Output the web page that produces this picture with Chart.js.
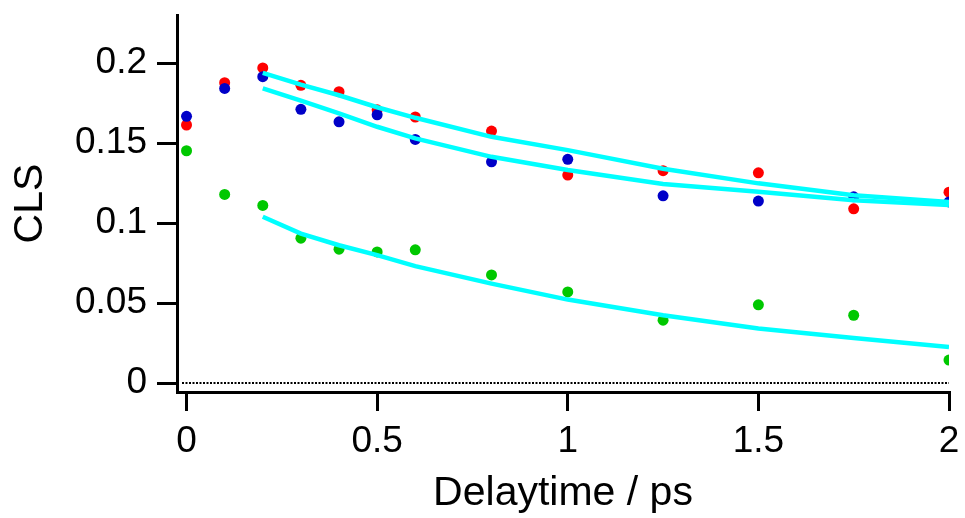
<!DOCTYPE html>
<html>
<head>
<meta charset="utf-8">
<script src="https://cdn.jsdelivr.net/npm/chart.js@4.4.1/dist/chart.umd.min.js"></script>
<style>
  html, body { margin: 0; padding: 0; background: #fff; }
  #wrap { width: 965px; height: 518px; position: relative; }
</style>
</head>
<body>
<div id="wrap"><canvas id="grafico"></canvas></div>
<script>
// delay times (ps)
const tiempos = [0, 0.1, 0.2, 0.3, 0.4, 0.5, 0.6, 0.8, 1, 1.25, 1.5, 1.75, 2];
const clsRojo = [0.1614, 0.1879, 0.1971, 0.1862, 0.1822, 0.1709, 0.1664, 0.1576, 0.1301, 0.1328, 0.1315, 0.1090, 0.1194];
const clsAzul = [0.1668, 0.1843, 0.1916, 0.1712, 0.1634, 0.1678, 0.1524, 0.1384, 0.1399, 0.1171, 0.1138, 0.1165, 0.1133];
const clsVerde = [0.1453, 0.1180, 0.1111, 0.0906, 0.0837, 0.0820, 0.0833, 0.0676, 0.0570, 0.0393, 0.0489, 0.0424, 0.0144];

// fitted curves
const tiemposAjuste = [0.2, 0.3, 0.4, 0.5, 0.6, 0.8, 1, 1.25, 1.5, 1.75, 2];
const ajusteRojo = [0.1940, 0.1866, 0.1800, 0.1725, 0.1659, 0.1540, 0.1457, 0.1340, 0.1249, 0.1175, 0.1133];
const ajusteAzul = [0.1843, 0.1766, 0.1687, 0.1603, 0.1530, 0.1415, 0.1332, 0.1245, 0.1196, 0.1144, 0.1113];
const ajusteVerde = [0.1040, 0.0935, 0.0862, 0.0800, 0.0731, 0.0622, 0.0522, 0.0424, 0.0341, 0.0282, 0.0225];

const ticksX = [0, 0.5, 1, 1.5, 2];
const etiquetasX = ['0', '0.5', '1', '1.5', '2'];
const ticksY = [0, 0.05, 0.1, 0.15, 0.2];
const etiquetasY = ['0', '0.05', '0.1', '0.15', '0.2'];

const puntos = (xs, ys) => xs.map((x, i) => ({ x: x, y: ys[i] }));
const fuente = 'Liberation Sans, Arial, sans-serif';

const lineaCero = {
    id: 'lineaCero',
    beforeDatasetsDraw(chart) {
        const { ctx, chartArea, scales } = chart;
        const y = scales.y.getPixelForValue(0);
        ctx.save();
        ctx.strokeStyle = '#000';
        ctx.lineWidth = 2;
        ctx.setLineDash([2, 1.5]);
        ctx.beginPath();
        ctx.moveTo(chartArea.left + 5, y);
        ctx.lineTo(chartArea.right, y);
        ctx.stroke();
        ctx.restore();
    }
};

function serieAjuste(ys) {
    return {
        data: puntos(tiemposAjuste, ys),
        showLine: true,
        borderColor: '#00ffff',
        borderWidth: 4.5,
        pointRadius: 0,
        tension: 0,
        order: 0
    };
}

function seriePuntos(ys, color, orden) {
    return {
        data: puntos(tiempos, ys),
        showLine: false,
        backgroundColor: color,
        borderWidth: 0,
        pointRadius: 5.5,
        order: orden
    };
}

const contexto = document.getElementById('grafico').getContext('2d');

new Chart(contexto, {
    type: 'scatter',
    data: {
        datasets: [
            serieAjuste(ajusteRojo),
            serieAjuste(ajusteAzul),
            serieAjuste(ajusteVerde),
            seriePuntos(clsAzul, '#0000c8', 1),
            seriePuntos(clsRojo, '#ff0000', 2),
            seriePuntos(clsVerde, '#00c800', 3)
        ]
    },
    options: {
        responsive: true,
        maintainAspectRatio: false,
        animation: false,
        layout: { padding: { top: 15, right: 16, left: 0, bottom: 0 } },
        plugins: { legend: { display: false }, tooltip: { enabled: false } },
        scales: {
            x: {
                type: 'linear',
                min: -0.025,
                max: 2,
                afterBuildTicks(s) { s.ticks = ticksX.map(v => ({ value: v })); },
                afterFit(s) {
                    s.height = 126;
                    s.paddingLeft = 0;
                    s.paddingRight = 0;
                },
                ticks: {
                    color: '#000',
                    font: { family: fuente, size: 37 },
                    padding: 9,
                    maxRotation: 0,
                    callback: (v, i) => etiquetasX[i]
                },
                grid: { drawOnChartArea: false, drawTicks: true, tickLength: 19, color: '#000', lineWidth: 3 },
                border: { display: true, color: '#000', width: 3 },
                title: {
                    display: true,
                    text: 'Delaytime / ps',
                    color: '#000',
                    font: { family: fuente, size: 41 },
                    padding: { top: 0, bottom: 0 }
                }
            },
            y: {
                type: 'linear',
                min: -0.0056,
                max: 0.2302,
                afterBuildTicks(s) { s.ticks = ticksY.map(v => ({ value: v })); },
                afterFit(s) {
                    s.width = 177;
                    s.paddingTop = 0;
                    s.paddingBottom = 0;
                },
                ticks: {
                    color: '#000',
                    font: { family: fuente, size: 37 },
                    padding: 10,
                    callback: (v, i) => etiquetasY[i]
                },
                grid: { drawOnChartArea: false, drawTicks: true, tickLength: 20, color: '#000', lineWidth: 3 },
                border: { display: true, color: '#000', width: 3 },
                title: {
                    display: true,
                    text: 'CLS',
                    color: '#000',
                    font: { family: fuente, size: 41 },
                    padding: { top: 6, bottom: 0 }
                }
            }
        }
    },
    plugins: [lineaCero]
});
</script>
</body>
</html>
